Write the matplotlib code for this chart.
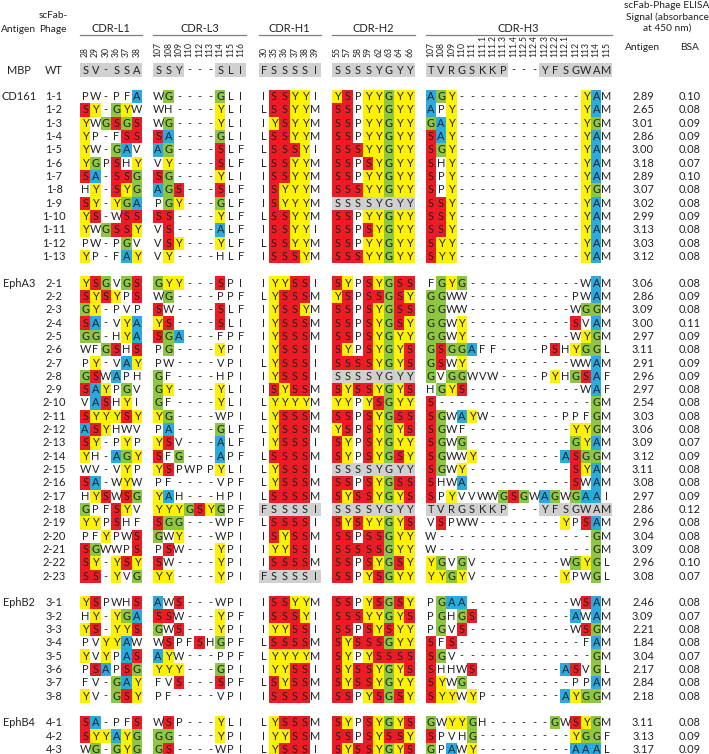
import matplotlib.pyplot as plt
from matplotlib.patches import Rectangle

plt.rcParams['font.family'] = ['Lato', 'DejaVu Sans']

# column headers (residue numbers) for each CDR
cdr_names = ['CDR-L1', 'CDR-L3', 'CDR-H1', 'CDR-H2', 'CDR-H3']
positions = [
    ['28', '29', '30', '36', '37', '38'],
    ['107', '108', '109', '110', '112', '113', '114', '115', '116'],
    ['30', '35', '36', '37', '38', '39'],
    ['55', '57', '58', '59', '62', '63', '64', '66'],
    ['107', '108', '109', '110', '111', '111.1', '111.2', '111.3', '111.4',
     '112.5', '112.4', '112.3', '112.2', '112.1', '112', '113', '114', '115'],
]
wt_seq = ['SV-SSA', 'SSY---SLI', 'FSSSSI', 'SSSSYGYY', 'TVRGSKKP---YFSGWAM']

antigens = ['CD161', 'EphA3', 'EphB2', 'EphB4']
clone_counts = [13, 23, 8, 3]

cdr_l1 = [
    'PW-PFA', 'SY-GYW', 'YWGSGS', 'YP-FSS', 'YW-GAV', 'YGPSHY', 'SA-SSG',
    'HY-SYG', 'SY-YGA', 'YS-WSS', 'YWGSSY', 'PW-PGV', 'YP-FAY',
    'YSGVGS', 'SYSYPS', 'GY-PVP', 'SA-VYA', 'GG-HYA', 'WFGSHS', 'PY-VAY',
    'GSWAPH', 'SAYPGV', 'VASHYI', 'SYYYSY', 'ASYHWV', 'SY-PYP', 'YH-AGY',
    'WV-VYP', 'SA-WYW', 'HYSWSG', 'GPFSYV', 'YYPSHF', 'PFYPWS', 'SGWWPS',
    'SY-YSY', 'SS-YVG',
    'YSPWHS', 'HY-YGA', 'YS-YYS', 'PVYYAW', 'YVYPAS', 'PSAPSG', 'FV-GAY',
    'YV-GSY',
    'SA-PFS', 'SYYAYG', 'WG-GYG',
]
cdr_l3 = [
    'WG----GLI', 'WH----YLI', 'WG----YLI', 'SA----GLI', 'AG----SLF',
    'VY----SLF', 'SG----YLI', 'AGS---SLF', 'PGY---GLF', 'SS----YLF',
    'VS----ALF', 'VSY---YLF', 'VY----HLF',
    'GYY---SPI', 'WG----PPF', 'SW----SLF', 'YS----SLI', 'SGA---FPF',
    'PG----YPI', 'PW----VPI', 'GF----HPI', 'GY----YLI', 'GF----YLI',
    'YG----WPI', 'PA----GLF', 'YSV---ALF', 'SFG---APF', 'YSPWPPYLI',
    'PF----VPF', 'YAH---HPI', 'YYYGSYGPF', 'SGG---WPF', 'GWY---WPI',
    'PSW---YPI', 'SW----YPI', 'YY----YPI',
    'AWS---WPI', 'SSW---YPF', 'GWS---YPI', 'WSPFSHGPF', 'AYW---PPF',
    'YYY---GPI', 'FVS---SPF', 'PF----VPI',
    'WSP---YLI', 'GG----YPI', 'GS----WPI',
]
cdr_h1 = [
    'ISSYYI', 'LSSYYM', 'IYSYYM', 'LSSYYM', 'LSSSYI', 'LSSYYM', 'ISSYYM',
    'ISYYYM', 'ISYYYM', 'LSSYYM', 'ISSYYI', 'LSSYYM', 'ISSSYM',
    'IYYSSI', 'LYSSSM', 'IYSSYM', 'IYSSSM', 'IYSSSM', 'IYSSSI', 'LYSSSI',
    'IYSSSI', 'ISYSSM', 'LYYYYM', 'LYSSSM', 'LYSSSM', 'IYSSSI', 'LSSSSM',
    'LYSSSI', 'LYSSSM', 'LSSSSM', 'FSSSSI', 'LSSSSI', 'ISYSSM', 'IYYSSI',
    'ISSSSM', 'FSSSSI',
    'ISSYYM', 'ISSSYI', 'IYYSSI', 'LSSSSM', 'LYYYYM', 'IYYSSI', 'LSYSSM',
    'ISSSSM',
    'LYSSSM', 'IYYSSM', 'LYSSSI',
]
cdr_h2 = [
    'YSPYYGYY', 'SSPYYGYY', 'SSPYYGYY', 'SSPYYGYY', 'SSSYYGYY', 'SSPSYGYY',
    'SSPYYGYY', 'SSSYYGYY', 'SSSSYGYY', 'SSPYYGYY', 'SSPSYGYY', 'SSPYYGYY',
    'SSSYYGYY',
    'SYPSYGSS', 'YSPSSGSY', 'SSPSYGSS', 'SSPSYGSY', 'SSPSYGYY', 'SYPSYGYS',
    'SSSSYGYS', 'SSSSYGYY', 'SYSSYGYS', 'YYPYSGYY', 'SSPSYGSS', 'YSPSYGYS',
    'SYPSYGYY', 'SYPSYGSY', 'SSSSYGYY', 'SSPSYGSS', 'SYSSYGYS', 'SSSSYGYY',
    'SYSYYGYS', 'SSPSSGYY', 'SSSSSGYY', 'SSPSYGSY', 'SSPYSGYY',
    'SSPYSGSY', 'SSSYYGYS', 'SSPSYSYY', 'SYSSSGYY', 'SYPYSSSS', 'SYSSYGYS',
    'SYSSYGYY', 'SSPYSGSY',
    'SYPSYGYS', 'SSPSYSSY', 'SYSSYGYS',
]
cdr_h3 = [
    'AGY------------YAM', 'APY------------YAM', 'GAY------------YGM',
    'SAY------------YAM', 'SGY------------YAM', 'SHY------------YAM',
    'SPY------------YAM', 'SPY------------YGM', 'SSY------------YAM',
    'SSY------------YAM', 'SSY------------YAM', 'SYY------------YAM',
    'SYY------------YAM',
    'FGYG-----------WAM', 'GGWW----------PWAM', 'GGWW----------WGGM',
    'GGWY----------SVAM', 'GGWY----------WYGM', 'GSGGAFF----PSHYGGL',
    'GSWY----------WWAM', 'GVGGWVW----PYHGSAF', 'HGYS-----------WAF',
    'S---------------GM', 'SGWAYW-------PPFGM', 'SGWF----------YYGM',
    'SGWG----------GYAM', 'SGWWY--------ASGGM', 'SGWY----------SYAM',
    'SHWA----------SWAM', 'SPYVVWWGSGWAGWGAAI', 'TVRGSKKP---YFSGWAM',
    'VSPWW--------YPSAM', 'W---------------GM', 'W---------------GM',
    'YGVGV--------WGYGL', 'YYGYV--------YPWGL',
    'PGAA----------WSAM', 'PGHGS---------AWAM', 'PGVS----------WSGM',
    'SFS------------FAM', 'SGV-------------GM', 'SHHWS--------ASVGL',
    'SYWG----------PPAM', 'SYYWYP-------AYGGM',
    'GWYYGH------GWSYGM', 'SPVHG---------YGGF', 'GPAWY---------AAAL',
]
elisa_antigen = [
    2.89, 2.65, 3.01, 2.86, 3.00, 3.18, 2.89, 3.07, 3.02, 2.99, 3.13, 3.03, 3.12,
    3.06, 2.86, 3.09, 3.00, 2.97, 3.11, 2.91, 2.96, 2.97, 2.54, 3.03, 3.06,
    3.09, 3.12, 3.11, 3.08, 2.97, 2.86, 2.96, 3.04, 3.09, 2.96, 3.08,
    2.46, 3.09, 2.21, 1.84, 3.04, 2.17, 2.84, 2.18,
    3.11, 3.13, 3.17,
]
elisa_bsa = [
    0.10, 0.08, 0.09, 0.09, 0.08, 0.07, 0.10, 0.08, 0.08, 0.09, 0.08, 0.08, 0.08,
    0.08, 0.09, 0.08, 0.11, 0.09, 0.08, 0.09, 0.09, 0.08, 0.08, 0.08, 0.08,
    0.07, 0.09, 0.08, 0.08, 0.09, 0.12, 0.08, 0.08, 0.08, 0.10, 0.07,
    0.08, 0.07, 0.08, 0.08, 0.07, 0.08, 0.08, 0.08,
    0.08, 0.09, 0.09,
]

residue_colors = {'S': '#ED1C24', 'Y': '#FFF200', 'G': '#8DC63F', 'A': '#29ABE2'}
wt_gray = '#D0D0D0'
txt = '#222222'
fs = 7.9      # residues, labels, values
fs_head = 7.3  # column headings

# layout (pixels)
W, H = 709, 754
cw = 10.35
pitch = 13.32
y_first = 70
group_x = [80, 153, 258.5, 332, 425.5]
x_antigen, x_phage, x_ag_val, x_bsa_val = 19, 54, 643, 690

fig = plt.figure(figsize=(W / 100, H / 100), dpi=100)
ax = fig.add_axes([0, 0, 1, 1])
ax.set_xlim(0, W)
ax.set_ylim(H, 0)
ax.axis('off')


def gray_mask(seq):
    # gray over residues, bridging single gaps
    m = [c != '-' for c in seq]
    for i in range(1, len(seq) - 1):
        if not m[i] and m[i - 1] and m[i + 1]:
            m[i] = True
    return m


def draw_seq(seq, x0, y, gray):
    mask = gray_mask(seq) if gray else None
    for i, c in enumerate(seq):
        xc = x0 + (i + 0.5) * cw
        color = None
        if gray:
            if mask[i]:
                color = wt_gray
        elif c in residue_colors:
            color = residue_colors[c]
        if color:
            ax.add_patch(Rectangle((x0 + i * cw, y - pitch / 2), cw, pitch,
                                   facecolor=color, edgecolor='none'))
        ax.text(xc, y, c, ha='center', va='center', fontsize=fs, color=txt)


# headers
ax.text(x_antigen, 29, 'Antigen', ha='center', va='center', fontsize=fs_head, color=txt)
ax.text(x_phage - 1, 15, 'scFab-', ha='center', va='center', fontsize=fs_head, color=txt)
ax.text(x_phage - 1, 29, 'Phage', ha='center', va='center', fontsize=fs_head, color=txt)
ax.text(667, 6, 'scFab-Phage ELISA', ha='center', va='center', fontsize=fs_head, color=txt)
ax.text(667, 17, 'Signal (absorbance', ha='center', va='center', fontsize=fs_head, color=txt)
ax.text(667, 28, 'at 450 nm)', ha='center', va='center', fontsize=fs_head, color=txt)
ax.text(x_ag_val, 47, 'Antigen', ha='center', va='center', fontsize=fs_head, color=txt)
ax.text(x_bsa_val, 47, 'BSA', ha='center', va='center', fontsize=fs_head, color=txt)

for name, pos, x0 in zip(cdr_names, positions, group_x):
    x1 = x0 + len(pos) * cw
    ax.text((x0 + x1) / 2, 28, name, ha='center', va='center', fontsize=fs, color=txt)
    ax.plot([x0, x1], [34.5, 34.5], color='#7F7F7F', lw=0.9)
    for i, p in enumerate(pos):
        ax.text(x0 + (i + 0.5) * cw, 57, p, ha='center', va='bottom',
                rotation=90, fontsize=6.2, color=txt)

# wild type row
ax.text(x_antigen, y_first, 'MBP', ha='center', va='center', fontsize=fs, color=txt)
ax.text(x_phage, y_first, 'WT', ha='center', va='center', fontsize=fs, color=txt)
for seq, x0 in zip(wt_seq, group_x):
    draw_seq(seq, x0, y_first, True)

# clones
row = 2
k = 0
for g, (ag, n) in enumerate(zip(antigens, clone_counts)):
    for j in range(n):
        y = y_first + row * pitch
        if j == 0:
            ax.text(x_antigen, y, ag, ha='center', va='center', fontsize=fs, color=txt)
        ax.text(x_phage, y, f'{g + 1}-{j + 1}', ha='center', va='center',
                fontsize=fs, color=txt)
        seqs = [cdr_l1[k], cdr_l3[k], cdr_h1[k], cdr_h2[k], cdr_h3[k]]
        for s, wt, x0 in zip(seqs, wt_seq, group_x):
            draw_seq(s, x0, y, s == wt)
        ax.text(x_ag_val, y, f'{elisa_antigen[k]:.2f}', ha='center', va='center',
                fontsize=fs, color=txt)
        ax.text(x_bsa_val, y, f'{elisa_bsa[k]:.2f}', ha='center', va='center',
                fontsize=fs, color=txt)
        row += 1
        k += 1
    row += 1

fig.savefig('out.png', dpi=100)
